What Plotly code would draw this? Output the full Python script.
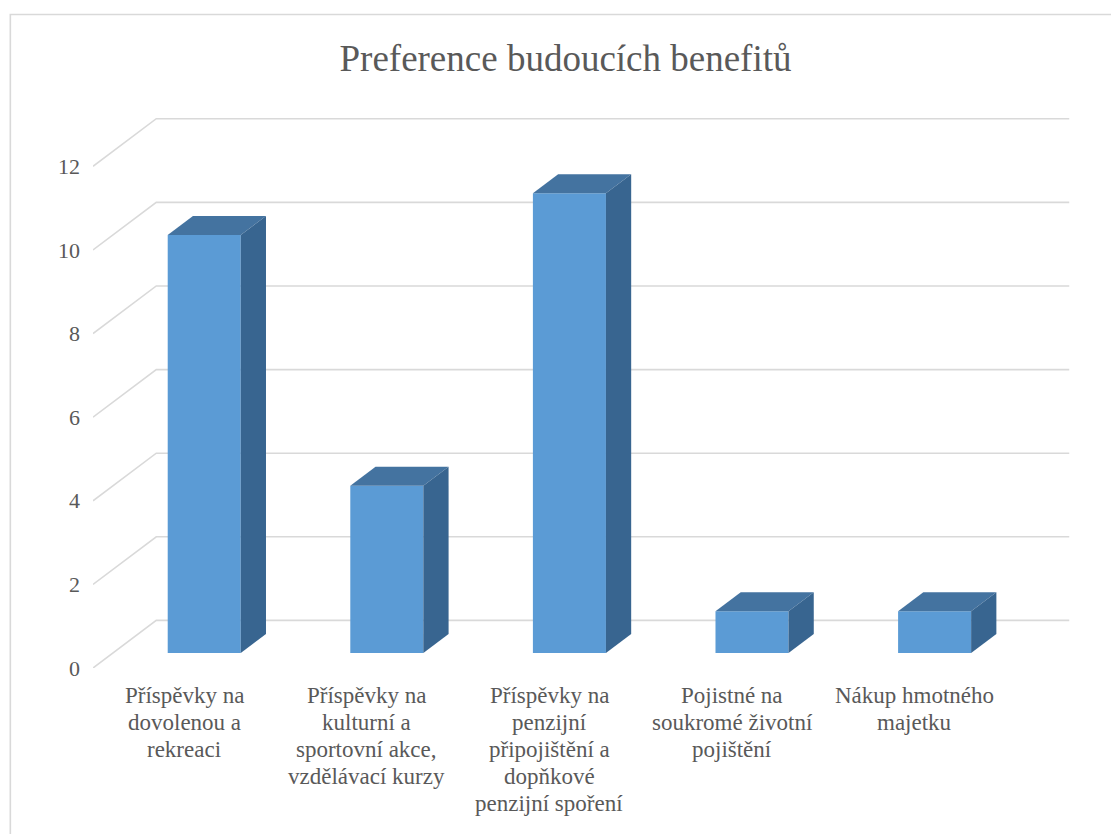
import plotly.graph_objects as go

# ---- data ----
title_text = "Preference budoucích benefitů"
category_lines = [
    ["Příspěvky na", "dovolenou a", "rekreaci"],
    ["Příspěvky na", "kulturní a", "sportovní akce,", "vzdělávací kurzy"],
    ["Příspěvky na", "penzijní", "připojištění a", "dopňkové", "penzijní spoření"],
    ["Pojistné na", "soukromé životní", "pojištění"],
    ["Nákup hmotného", "majetku"],
]
values = [10, 4, 11, 1, 1]
tick_values = [0, 2, 4, 6, 8, 10, 12]

# ---- styling / geometry constants ----
FRONT = "#5B9BD5"
TOP = "#4473A0"
SIDE = "#386590"
GRID = "#D9D9D9"
TEXT = "#595959"
FONT = "Liberation Serif"

DX, DY = 0.3465, 1.138        # full depth of the 3D floor, in axis units
D0, D1 = 0.315, 0.714         # bar depth span as fraction of full depth
HALF_W = 0.2                  # half bar width (category units)
N = len(values)

W, H = 1111, 834
ML, MR, MT, MB = 92.7, 26, 100, 165.7
PX_X = 182.65
PX_Y = 41.83
x_range = [0, (W - ML - MR) / PX_X]
y_range = [0, (H - MT - MB) / PX_Y]

fig = go.Figure()

# 3D gridlines: diagonal on the side wall, horizontal on the back wall
for t in tick_values:
    fig.add_trace(go.Scatter(
        x=[0, DX, N + DX], y=[t, t + DY, t + DY], mode="lines",
        line=dict(color=GRID, width=1.6), hoverinfo="skip", showlegend=False))

centers = [i + 0.5 for i in range(N)]
ox0, oy0 = D0 * DX, D0 * DY
ox1, oy1 = D1 * DX, D1 * DY

for c, v in zip(centers, values):
    xl, xr = c - HALF_W, c + HALF_W
    # front face
    fig.add_trace(go.Scatter(
        x=[xl + ox0, xr + ox0, xr + ox0, xl + ox0, xl + ox0],
        y=[oy0, oy0, v + oy0, v + oy0, oy0],
        fill="toself", fillcolor=FRONT, mode="lines", line=dict(width=0, color=FRONT),
        hoverinfo="text", text=str(v), showlegend=False))
    # top face
    fig.add_trace(go.Scatter(
        x=[xl + ox0, xr + ox0, xr + ox1, xl + ox1, xl + ox0],
        y=[v + oy0, v + oy0, v + oy1, v + oy1, v + oy0],
        fill="toself", fillcolor=TOP, mode="lines", line=dict(width=0, color=TOP),
        hoverinfo="skip", showlegend=False))
    # side face
    fig.add_trace(go.Scatter(
        x=[xr + ox0, xr + ox1, xr + ox1, xr + ox0, xr + ox0],
        y=[oy0, oy1, v + oy1, v + oy0, oy0],
        fill="toself", fillcolor=SIDE, mode="lines", line=dict(width=0, color=SIDE),
        hoverinfo="skip", showlegend=False))

# category labels (one annotation per line)
plot_h = H - MT - MB
first_line_px = 696
line_gap = 27
annotations = []
for c, lines in zip(centers, category_lines):
    for k, txt in enumerate(lines):
        py = first_line_px + k * line_gap
        annotations.append(dict(
            x=c, xref="x", y=(H - MB - py) / plot_h, yref="paper",
            text=txt, showarrow=False, xanchor="center", yanchor="middle",
            font=dict(family=FONT, size=23, color=TEXT)))

fig.update_layout(
    width=W, height=H, autosize=False,
    margin=dict(l=ML, r=MR, t=MT, b=MB, pad=0),
    paper_bgcolor="white", plot_bgcolor="white",
    title=dict(text=title_text, x=565.5 / W, xanchor="center",
               y=1 - 58 / H, yanchor="middle", yref="container",
               font=dict(family=FONT, size=37, color=TEXT)),
    xaxis=dict(range=x_range, showgrid=False, zeroline=False, showline=False,
               showticklabels=False, ticks=""),
    yaxis=dict(range=y_range, showgrid=False, zeroline=False, showline=False,
               tickmode="array", tickvals=tick_values,
               ticktext=[str(t) for t in tick_values], ticks="",
               ticklabelstandoff=12,
               tickfont=dict(family=FONT, size=22, color=TEXT)),
    annotations=annotations,
    shapes=[dict(type="rect", xref="paper", yref="paper",
                 x0=(10 - ML) / (W - ML - MR), x1=1.2,
                 y0=-0.5, y1=(H - MB - 14.5) / plot_h,
                 line=dict(color=GRID, width=1.6), fillcolor="rgba(0,0,0,0)",
                 layer="below")],
    showlegend=False,
)

fig.write_html("out.html")
